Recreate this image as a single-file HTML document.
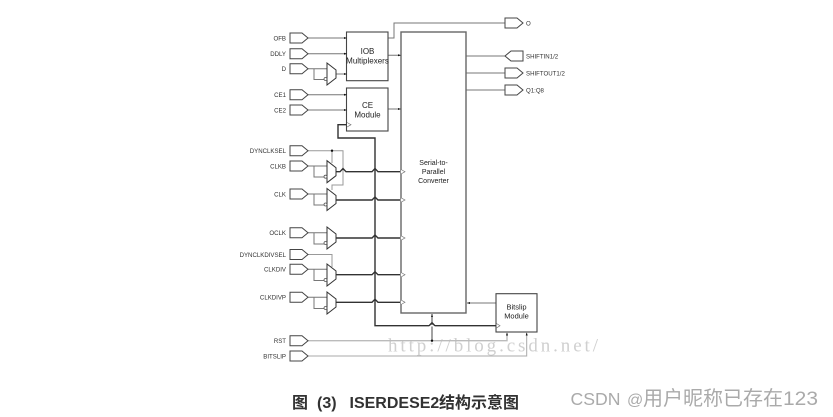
<!DOCTYPE html>
<html><head><meta charset="utf-8"><style>
html,body{margin:0;padding:0;background:#fff;width:833px;height:417px;overflow:hidden}
svg{display:block}
.l{font:6.1px "Liberation Sans",sans-serif;fill:#333;text-anchor:end}
.r{font:6.1px "Liberation Sans",sans-serif;fill:#333}
.c{font:8px "Liberation Sans",sans-serif;fill:#222;text-anchor:middle}
.h{font-family:"Liberation Sans","Noto Sans CJK SC",sans-serif;font-size:16px;font-weight:700;fill:#333}
.w{font-family:"Liberation Sans","Noto Sans CJK SC",sans-serif;fill:#aaa}
</style></head><body>
<svg width="833" height="417" viewBox="0 0 833 417" xmlns="http://www.w3.org/2000/svg">
<defs>
<filter id="b" x="-5%" y="-5%" width="110%" height="110%"><feGaussianBlur stdDeviation="0.3"/></filter>
<filter id="b2" x="-5%" y="-20%" width="110%" height="140%"><feGaussianBlur stdDeviation="0.25"/></filter>
<g id="p"><path d="M0 -5H12L18 0L12 5H0Z" fill="#fff" stroke="#444" stroke-width="1"/></g>
<g id="m"><path d="M0 0L9 7V15L0 22Z" fill="#fff" stroke="#333" stroke-width="1"/><circle cx="-1.5" cy="16" r="1.5" fill="#fff" stroke="#555" stroke-width=".8"/></g>
</defs>
<g filter="url(#b)">
<text x="388" y="351.5" font-family="Liberation Serif,serif" font-size="19" fill="#d0d0d0" textLength="210" lengthAdjust="spacing">http://blog.csdn.net/</text>
<g fill="none" stroke="#777" stroke-width="1">
<path d="M308 38H347M308 53.7H347M308 94.7H347M308 110H347"/>
<path d="M308 68.7H327M314 68.7V79.5H325M336 74H347"/>
<path d="M388 38H394V23H505"/>
<path d="M388 55.3H401M388 109H401"/>
<path d="M466 56H505M466 73H505M466 90H505"/>
<path d="M308 166H327M314 166V177H325M308 194H327M314 194V205H325M308 232.7H327M314 232.7V244H325M308 269.3H327M314 269.3V280.5H325M308 297.3H327M314 297.3V308.5H325"/>
<path stroke="#999" d="M308 150.7H343V185H332V190M332 150.7V163M308 254.5H332V267"/>
<path d="M496 303H467"/>
<path stroke="#bbb" stroke-width="1.4" d="M308 340.7H507V333"/>
<path stroke="#aaa" d="M308 356H526.7V333"/>
<path stroke="#444" d="M432 340.7V314"/>
</g>
<rect x="401" y="32" width="65" height="281" fill="none" stroke="#666" stroke-width="1.4"/>
<rect x="346.5" y="32" width="41.5" height="48.7" fill="#fff" stroke="#444" stroke-width="1.1"/>
<rect x="346.5" y="88" width="41.5" height="43" fill="#fff" stroke="#444" stroke-width="1.1"/>
<rect x="496" y="293.7" width="41" height="38.3" fill="#fff" stroke="#444" stroke-width="1.1"/>
<g fill="none" stroke="#333" stroke-width="1.4">
<path d="M346.5 124.7H338V138H375V325.7H496"/>
<path d="M336 171.7H340L343 168.5L346 171.7H372L375 168.5L378 171.7H400"/>
<path d="M336 200H372L375 197L378 200H400"/>
<path d="M336 238H372L375 235L378 238H400"/>
<path d="M336 274.7H372L375 271.7L378 274.7H400"/>
<path d="M336 302.3H372L375 299.3L378 302.3H400"/>
</g>
<path d="M429 325.7H435" stroke="#fff" stroke-width="1.6"/>
<path d="M429 325.9L432 322.7L435 325.9" fill="none" stroke="#333" stroke-width="1.4"/>
<use href="#m" x="327" y="63"/><use href="#m" x="327" y="160.7"/><use href="#m" x="327" y="188.5"/>
<use href="#m" x="327" y="227"/><use href="#m" x="327" y="264"/><use href="#m" x="327" y="292"/>
<g fill="#fff" stroke="#777" stroke-width=".7">
<path d="M401 169.5L405 171.7L401 174M401 197.8L405 200L401 202.2M401 235.8L405 238L401 240.2M401 272.5L405 274.7L401 277M401 300L405 302.3L401 304.5M347 122.5L351 124.7L347 127M496.5 323.5L500 325.7L496.5 328"/>
</g>
<g fill="#111">
<path d="M344 37L347 38L344 39ZM344 52.7L347 53.7L344 54.7ZM344 73L347 74L344 75ZM344 93.7L347 94.7L344 95.7ZM344 109L347 110L344 111ZM398 54.3L401 55.3L398 56.3ZM398 108L401 109L398 110ZM467 303L470 302V304ZM432 314L431 317H433ZM507 332.5L506 335.5H508ZM526.7 332.5L525.7 335.5H527.7Z"/>
<circle cx="332" cy="150.7" r="1.2"/><circle cx="432" cy="340.7" r="1.2"/>
</g>
<use href="#p" x="290" y="38"/><use href="#p" x="290" y="53.7"/><use href="#p" x="290" y="68.7"/>
<use href="#p" x="290" y="94.7"/><use href="#p" x="290" y="110"/>
<use href="#p" x="290" y="150.7"/><use href="#p" x="290" y="166"/><use href="#p" x="290" y="194"/>
<use href="#p" x="290" y="232.7"/><use href="#p" x="290" y="254.5"/><use href="#p" x="290" y="269.3"/>
<use href="#p" x="290" y="297.3"/><use href="#p" x="290" y="340.7"/><use href="#p" x="290" y="356"/>
<use href="#p" x="505" y="23"/>
<path d="M523 51H511L505 56L511 61H523Z" fill="#fff" stroke="#444"/>
<use href="#p" x="505" y="73"/><use href="#p" x="505" y="90"/>
<text class="l" x="286" y="40.3">OFB</text>
<text class="l" x="286" y="56">DDLY</text>
<text class="l" x="286" y="71">D</text>
<text class="l" x="286" y="97">CE1</text>
<text class="l" x="286" y="112.3">CE2</text>
<text class="l" x="286" y="153">DYNCLKSEL</text>
<text class="l" x="286" y="168.3">CLKB</text>
<text class="l" x="286" y="196.3">CLK</text>
<text class="l" x="286" y="235">OCLK</text>
<text class="l" x="286" y="256.8">DYNCLKDIVSEL</text>
<text class="l" x="286" y="271.6">CLKDIV</text>
<text class="l" x="286" y="299.6">CLKDIVP</text>
<text class="l" x="286" y="343">RST</text>
<text class="l" x="286" y="358.3">BITSLIP</text>
<text class="r" x="526" y="25.3">O</text>
<text class="r" x="526" y="58.3">SHIFTIN1/2</text>
<text class="r" x="526" y="75.3">SHIFTOUT1/2</text>
<text class="r" x="526" y="92.3">Q1:Q8</text>
<text class="c" x="367.5" y="54">IOB</text>
<text class="c" x="367.5" y="63.5">Multiplexers</text>
<text class="c" x="367.5" y="108">CE</text>
<text class="c" x="367.5" y="117.5">Module</text>
<text class="c" style="font-size:7px" x="433.5" y="165">Serial-to-</text>
<text class="c" style="font-size:7px" x="433.5" y="174">Parallel</text>
<text class="c" style="font-size:7px" x="433.5" y="183">Converter</text>
<text class="c" style="font-size:7.5px" x="516.5" y="309.5">Bitslip</text>
<text class="c" style="font-size:7.5px" x="516.5" y="318.5">Module</text>
</g>
<g filter="url(#b2)">
<text class="h" x="292" y="408">图</text>
<text class="h" x="317" y="408">(3)</text>
<text class="h" x="349.5" y="408">ISERDESE2</text>
<text class="h" x="439" y="408">结构示意图</text>
<text class="w" x="570.5" y="405" font-size="17.5" textLength="50" lengthAdjust="spacingAndGlyphs">CSDN</text>
<text class="w" x="627" y="405" font-size="16">@</text>
<text class="w" x="643" y="405" font-size="20">用户昵称已存在</text>
<text class="w" x="783" y="405" font-size="19" textLength="35" lengthAdjust="spacingAndGlyphs">123</text>
</g>
</svg>
</body></html>
